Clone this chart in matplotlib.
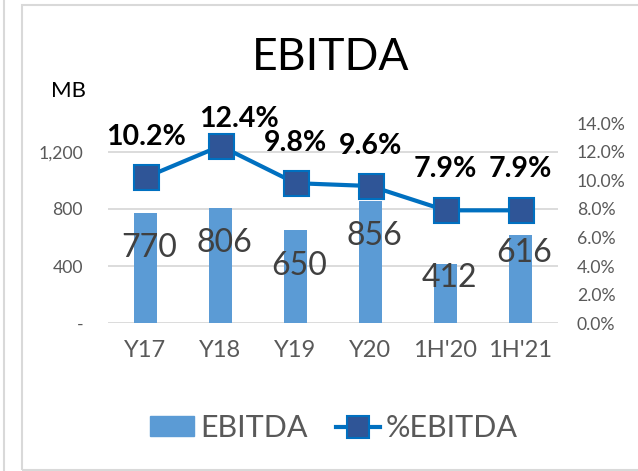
import matplotlib
matplotlib.use("Agg")
import matplotlib.pyplot as plt
from matplotlib.patches import Patch, Rectangle
from matplotlib.lines import Line2D
from matplotlib.ticker import FuncFormatter

# ---- data ----
categories = ["Y17", "Y18", "Y19", "Y20", "1H'20", "1H'21"]
ebitda = [770, 806, 650, 856, 412, 616]
ebitda_pct = [10.2, 12.4, 9.8, 9.6, 7.9, 7.9]
left_ticks = [0, 400, 800, 1200]
right_ticks = [0, 2, 4, 6, 8, 10, 12, 14]

# ---- label placement (points) ----
bar_label_drop = [25, 25, 26, 25, 10, 13]
pct_label_rise = [29, 19.5, 29, 29, 29.5, 29.5]
pct_label_dx = [0.5, 13.5, 0, 0, 0, 0]

plt.rcParams['font.family'] = ['Lato', 'DejaVu Sans']

W, H = 638, 471
fig = plt.figure(figsize=(W / 100, H / 100), dpi=100)


def fx(px):
    return px / W


def fy(py):
    return 1 - py / H


BAR = '#5B9BD5'
LINE = '#0070C0'
MARK = '#2F5597'
GRID = '#D9D9D9'
TICK = '#595959'

ax = fig.add_axes([fx(108), fy(323.3), fx(558) - fx(108), (323.3 - 123.1) / H])
xs = list(range(len(categories)))
ax.bar(xs, ebitda, width=0.3, color=BAR, zorder=2)
ax.set_xlim(-0.5, len(categories) - 0.5)
ax.set_ylim(0, 1400)
ax.set_yticks(left_ticks)
ax.yaxis.set_major_formatter(FuncFormatter(lambda v, p: '-' if v == 0 else f'{v:,.0f}'))
ax.grid(axis='y', color=GRID, lw=1.3, zorder=0)
ax.set_axisbelow(True)
for s in ax.spines.values():
    s.set_visible(False)
ax.tick_params(length=0)
ax.tick_params(axis='y', labelsize=12.7, labelcolor=TICK, pad=18)
ax.set_xticks(xs)
ax.set_xticklabels(categories)
ax.tick_params(axis='x', labelsize=17, labelcolor=TICK, pad=12)

for i, v in enumerate(ebitda):
    ax.annotate(str(v), (i, v), xytext=(2.5, -bar_label_drop[i]), textcoords='offset points',
                ha='center', va='center', fontsize=23, color='#404040', zorder=5)

ax2 = ax.twinx()
ax2.set_ylim(0, 14)
ax2.set_yticks(right_ticks)
ax2.yaxis.set_major_formatter(FuncFormatter(lambda v, p: f'{v:.1f}%'))
for s in ax2.spines.values():
    s.set_visible(False)
ax2.tick_params(length=0, labelsize=12.7, labelcolor=TICK, pad=13.5)
ax2.plot(xs, ebitda_pct, color=LINE, lw=3, marker='s', ms=18, mfc=MARK, mec=LINE, mew=1.5, zorder=4)

for i, v in enumerate(ebitda_pct):
    ax2.annotate(f'{v:.1f}%', (i, v), xytext=(pct_label_dx[i], pct_label_rise[i]), textcoords='offset points',
                 ha='center', va='center', fontsize=20.5, fontweight='bold', color='black',
                 annotation_clip=False)

# title and unit
fig.text(fx(331), fy(58), 'EBITDA', ha='center', va='center', fontsize=32, color='black')
fig.text(fx(51), fy(91), 'MB', ha='left', va='center', fontsize=16, color='black')

# legend
handles = [Patch(facecolor=BAR, edgecolor=BAR),
           Line2D([], [], color=LINE, lw=3, marker='s', ms=16, mfc=MARK, mec=LINE, mew=1.5)]
fig.legend(handles, ['EBITDA', '%EBITDA'], loc='center', bbox_to_anchor=(fx(334), fy(428)),
           ncol=2, frameon=False, fontsize=22, labelcolor=TICK, handlelength=1.45,
           handleheight=0.65, handletextpad=0.2, columnspacing=0.9)

# frames
fig.add_artist(Rectangle((fx(22), fy(470)), 1.2, fy(5) - fy(470), transform=fig.transFigure,
                         fill=False, edgecolor=GRID, lw=1.5))
fig.add_artist(Line2D([fx(3.5), fx(3.5)], [0, 1], transform=fig.transFigure, color=GRID, lw=1.5))

fig.savefig('out.png', dpi=100)
